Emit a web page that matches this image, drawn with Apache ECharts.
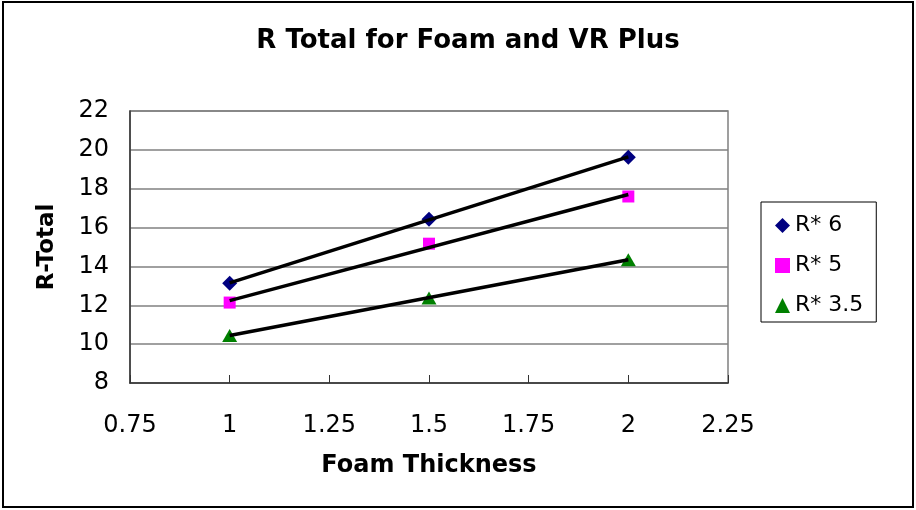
<!DOCTYPE html>
<html>
<head>
    <meta charset="utf-8">
    <title>R Total for Foam and VR Plus</title>
    <script src="https://cdn.jsdelivr.net/npm/echarts@6/dist/echarts.min.js"></script>
    <style>
        body { margin: 0; background: #fff; }
    </style>
</head>
<body>
<div id="main" style="width: 916px;height:510px;"></div>
<script type="text/javascript">
    // data
    var thickness = [1, 1.5, 2];
    var r6 = [13.14, 16.43, 19.62];
    var r5 = [12.14, 15.17, 17.6];
    var r35 = [10.45, 12.38, 14.35];
    var seriesNames = ['R* 6', 'R* 5', 'R* 3.5'];
    var colors = ['#000080', '#FF00FF', '#008000'];
    var symbols = ['diamond', 'rect', 'triangle'];
    var symbolSizes = [[15, 15], [12, 12], [15, 13]];

    var fontName = 'DejaVu Sans';

    // linear trendline (least squares), like the excel one
    function trend(xs, ys) {
        var n = xs.length, sx = 0, sy = 0, sxy = 0, sxx = 0;
        for (var i = 0; i < n; i++) {
            sx += xs[i]; sy += ys[i];
            sxy += xs[i] * ys[i]; sxx += xs[i] * xs[i];
        }
        var b = (n * sxy - sx * sy) / (n * sxx - sx * sx);
        var a = (sy - b * sx) / n;
        var x0 = xs[0], x1 = xs[n - 1];
        return [[x0, a + b * x0], [x1, a + b * x1]];
    }

    var allY = [r6, r5, r35];
    var series = [];
    allY.forEach(function (ys, k) {
        series.push({
            name: seriesNames[k],
            type: 'scatter',
            symbol: symbols[k],
            symbolSize: symbolSizes[k],
            itemStyle: { color: colors[k], opacity: 1 },
            z: 2,
            data: thickness.map(function (x, i) { return [x, ys[i]]; })
        });
    });
    allY.forEach(function (ys, k) {
        series.push({
            name: 'trend ' + k,
            type: 'line',
            symbol: 'none',
            silent: true,
            z: 3,
            lineStyle: { color: '#000', width: 3.5 },
            data: trend(thickness, ys)
        });
    });

    var myChart = echarts.init(document.getElementById('main'));
    var option = {
        backgroundColor: '#fff',
        animation: false,
        title: {
            text: 'R Total for Foam and VR Plus',
            left: 463,
            textAlign: 'center',
            top: 23,
            textStyle: {
                fontFamily: fontName,
                fontWeight: 'bold',
                fontSize: 26,
                color: '#000'
            }
        },
        graphic: [{
            type: 'rect',
            shape: { x: 3, y: 2, width: 910, height: 505 },
            style: { fill: 'none', stroke: '#000', lineWidth: 2 },
            silent: true
        }],
        legend: {
            data: seriesNames,
            orient: 'vertical',
            left: 761,
            top: 202,
            padding: [12, 13, 5, 14],
            itemGap: 17,
            itemWidth: 15,
            itemHeight: 15,
            borderColor: '#000',
            borderWidth: 1,
            textStyle: {
                fontFamily: fontName,
                fontSize: 22,
                color: '#000',
                lineHeight: 23
            }
        },
        grid: {
            left: 130,
            right: 188,
            top: 111,
            bottom: 127,
            show: true,
            borderColor: '#808080',
            borderWidth: 1.5
        },
        xAxis: {
            type: 'value',
            min: 0.75,
            max: 2.25,
            interval: 0.25,
            name: 'Foam Thickness',
            nameLocation: 'middle',
            nameGap: 71,
            nameTextStyle: {
                fontFamily: fontName,
                fontWeight: 'bold',
                fontSize: 24,
                color: '#000'
            },
            axisLine: { onZero: false, lineStyle: { color: '#333', width: 1.5 } },
            axisTick: { show: true, inside: true, length: 8, lineStyle: { color: '#333' } },
            splitLine: { show: false },
            axisLabel: {
                margin: 31,
                fontFamily: fontName,
                fontSize: 24,
                color: '#000',
                formatter: function (v) { return String(+v.toFixed(2)); }
            }
        },
        yAxis: {
            type: 'value',
            min: 8,
            max: 22,
            interval: 2,
            name: 'R-Total',
            nameLocation: 'middle',
            nameGap: 71,
            nameRotate: 90,
            nameTextStyle: {
                fontFamily: fontName,
                fontWeight: 'bold',
                fontSize: 23,
                color: '#000'
            },
            axisLine: { show: true, onZero: false, lineStyle: { color: '#333', width: 1.5 } },
            axisTick: { show: false },
            splitLine: { show: true, lineStyle: { color: '#808080', width: 1.5 } },
            axisLabel: {
                margin: 21,
                fontFamily: fontName,
                fontSize: 24,
                color: '#000'
            }
        },
        series: series
    };
    myChart.setOption(option);
</script>
</body>
</html>
